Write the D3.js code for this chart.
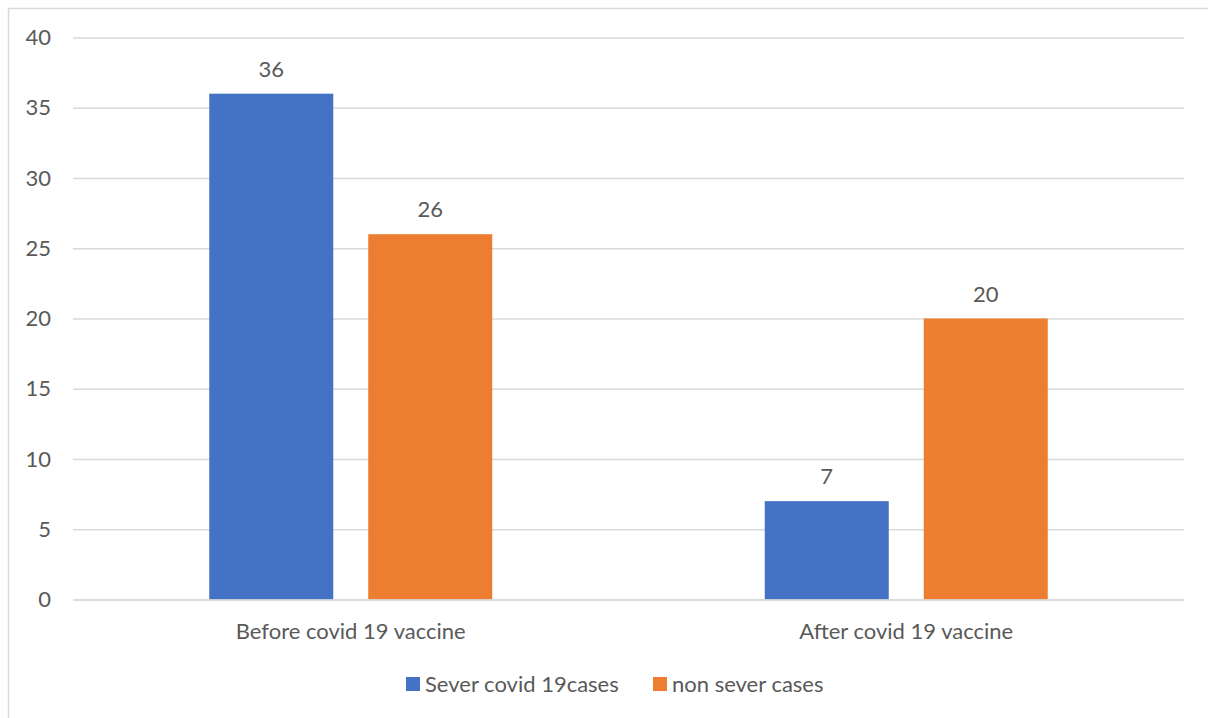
<!DOCTYPE html>
<html><head><meta charset="utf-8">
<script src="https://cdn.jsdelivr.net/npm/d3@7"></script>
<style>body{margin:0;background:#fff}svg{display:block}text{font-family:Lato,"Open Sans",sans-serif;fill:#595959}</style>
</head><body><svg id="c" width="1208" height="718"></svg>
<script>
const categories = ["Before covid 19 vaccine", "After covid 19 vaccine"];
const seriesNames = ["Sever covid 19cases", "non sever cases"];
const severValues = [36, 7];
const nonSeverValues = [26, 20];
const yTicks = [0, 5, 10, 15, 20, 25, 30, 35, 40];
const colors = ["#4472c4", "#ed7d31"];

(function () {
const FS = 22;
const svg = d3.select("#c");
svg.append("rect").attr("x", 8.5).attr("y", 8.5).attr("width", 1220).attr("height", 730)
  .attr("fill", "none").attr("stroke", "#d9d9d9").attr("stroke-width", 1.5);

const pl = 73, pr = 1184, pt = 37.5, pb = 599.5;
const y = d3.scaleLinear().domain([0, 40]).range([pb, pt]);
const x0 = d3.scaleBand().domain(categories).range([pl, pr]).paddingInner(0).paddingOuter(0);
const x1 = d3.scaleBand().domain(seriesNames).range([x0.bandwidth()/2 - 141.5, x0.bandwidth()/2 + 141.5]).paddingInner(0.22).paddingOuter(0);

const yAxis = d3.axisLeft(y).tickValues(yTicks).tickSize(-(pr - pl)).tickPadding(22);
const g = svg.append("g").attr("transform", `translate(${pl},0)`).call(yAxis);
g.select(".domain").remove();
g.selectAll(".tick line").attr("stroke", "#d9d9d9").attr("stroke-width", 1.5);
g.selectAll(".tick text").attr("font-size", FS).attr("fill", "#595959").style("font-family", "Lato");

const data = categories.map((c, i) => ({cat: c, vals: [severValues[i], nonSeverValues[i]]}));
const groups = svg.append("g").selectAll("g").data(data).join("g")
  .attr("transform", d => `translate(${x0(d.cat)},0)`);
groups.selectAll("rect").data(d => d.vals.map((v, j) => ({v, s: seriesNames[j], j})))
  .join("rect").attr("x", d => x1(d.s)).attr("width", x1.bandwidth())
  .attr("y", d => y(d.v)).attr("height", d => y(0) - y(d.v)).attr("fill", d => colors[d.j]);
groups.selectAll("text.lbl").data(d => d.vals.map((v, j) => ({v, s: seriesNames[j]})))
  .join("text").attr("class", "lbl").attr("x", d => x1(d.s) + x1.bandwidth()/2)
  .attr("y", d => y(d.v) - 17).attr("text-anchor", "middle").attr("font-size", FS).text(d => d.v);

const xAxis = d3.axisBottom(x0).tickSize(0).tickPadding(24);
const gx = svg.append("g").attr("transform", `translate(0,${pb})`).call(xAxis);
gx.select(".domain").attr("stroke", "#d9d9d9").attr("stroke-width", 1.5);
gx.selectAll("text").attr("font-size", FS).attr("fill", "#595959").style("font-family", "Lato");

const legX = [406, 653];
const leg = svg.append("g").selectAll("g").data(seriesNames).join("g")
  .attr("transform", (d, i) => `translate(${legX[i]},677)`);
leg.append("rect").attr("width", 14).attr("height", 14).attr("fill", (d, i) => colors[i]);
leg.append("text").attr("x", 19).attr("y", 15).attr("font-size", FS).text(d => d);
})();
</script></body></html>
